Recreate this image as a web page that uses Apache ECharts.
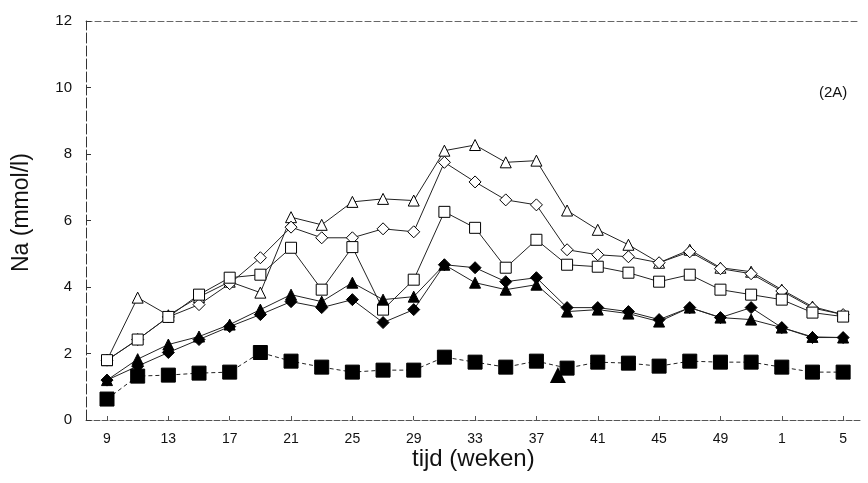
<!DOCTYPE html>
<html><head><meta charset="utf-8">
<script src="https://cdn.jsdelivr.net/npm/echarts@6/dist/echarts.min.js"></script>
<style>html,body{margin:0;padding:0;background:#fff}#c{width:868px;height:483px}</style>
</head><body><div id="c"></div>
<script>
var weeks = ['9','11','13','15','17','19','21','23','25','27','29','31','33','35','37','39','41','43','45','47','49','51','1','3','5'];
var tickIdx = [0,2,4,6,8,10,12,14,16,18,20,22,24];
var openTriangle = [1.8,3.68,3.15,3.7,4.16,3.83,6.1,5.87,6.56,6.65,6.6,8.1,8.27,7.75,7.8,6.3,5.72,5.27,4.73,5.12,4.58,4.46,3.92,3.41,3.17];
var openDiamond  = [1.8,2.42,3.1,3.47,4.1,4.88,5.8,5.48,5.48,5.75,5.66,7.75,7.16,6.62,6.47,5.12,4.97,4.91,4.73,5.06,4.55,4.4,3.88,3.37,3.17];
var openSquare   = [1.8,2.42,3.1,3.77,4.28,4.37,5.18,3.92,5.2,3.32,4.22,6.26,5.78,4.58,5.42,4.67,4.61,4.43,4.16,4.37,3.92,3.77,3.62,3.23,3.11];
var filledDiamond = [1.2,1.62,2.03,2.42,2.81,3.17,3.56,3.38,3.62,2.93,3.32,4.67,4.58,4.16,4.28,3.38,3.38,3.26,3.02,3.38,3.08,3.38,2.78,2.48,2.48];
var filledTriangle = [1.2,1.83,2.27,2.51,2.87,3.32,3.77,3.56,4.13,3.62,3.71,4.67,4.13,3.92,4.07,3.26,3.32,3.2,2.96,3.38,3.08,3.02,2.78,2.5,2.48];
var filledSquare = [0.63,1.32,1.35,1.41,1.44,2.03,1.77,1.59,1.44,1.5,1.5,1.89,1.74,1.59,1.77,1.56,1.74,1.71,1.62,1.77,1.74,1.74,1.59,1.44,1.44];
var strayTriangle = [[14.7,1.35]];
var yTicks = [0,2,4,6,8,10,12];

function pairs(arr){ return arr.map(function(v,i){ return [i,v]; }); }
var FONT = 'Liberation Sans, Arial, sans-serif';
var chart = echarts.init(document.getElementById('c'));
function mk(name, data, symbol, size, filled, dashed){
  return {
    name: name, type: 'line', data: pairs(data), symbol: symbol, symbolSize: size,
    lineStyle: {color: '#222', width: 1, type: dashed ? [4,3] : 'solid'},
    itemStyle: {color: filled ? '#000' : '#fff', borderColor: '#000', borderWidth: 1, opacity: 1},
    emphasis: {disabled: true}, z: filled ? 3 : 2
  };
}
chart.setOption({
  animation: false,
  title: {text: '(2A)', left: 814, top: 80, textStyle: {fontFamily: FONT, fontSize: 15, fontWeight: 'normal', color: '#111'}},
  grid: {left: 86, right: 8, top: 21, bottom: 63},
  graphic: [
    {type: 'text', x: 412, y: 447, style: {text: 'tijd (weken)', font: '24px ' + FONT, fill: '#111'}},
    {type: 'text', x: 10, y: 272, rotation: Math.PI/2, style: {text: 'Na (mmol/l)', font: '23px ' + FONT, fill: '#111'}}
  ],
  xAxis: [{
    type: 'value', min: -0.685, max: 24.55,
    axisLine: {show: true, onZero: false, lineStyle: {color: '#555', width: 1, type: [6,2]}},
    axisTick: {show: true, inside: true, length: 4, customValues: tickIdx, lineStyle: {color: '#555'}},
    axisLabel: {customValues: tickIdx, formatter: function(v){ return weeks[Math.round(v)]; }, fontFamily: FONT, fontSize: 14, color: '#111', margin: 12},
    splitLine: {show: false}
  },{
    type: 'value', position: 'top', min: -0.685, max: 24.55,
    axisLine: {show: true, onZero: false, lineStyle: {color: '#666', width: 1, type: [6,3]}},
    axisTick: {show: false}, axisLabel: {show: false}, splitLine: {show: false}
  }],
  yAxis: {
    type: 'value', min: 0, max: 12, interval: 2,
    axisLine: {show: true, onZero: false, lineStyle: {color: '#333', width: 1, type: [10,3]}},
    axisTick: {show: true, inside: true, length: 5, lineStyle: {color: '#333'}},
    axisLabel: {formatter: function(v){ return yTicks.indexOf(v) >= 0 ? String(v) : ''; }, fontFamily: FONT, fontSize: 15, color: '#111', margin: 14},
    splitLine: {show: false}
  },
  series: [
    mk('open triangle', openTriangle, 'triangle', 11, false, false),
    mk('open diamond', openDiamond, 'diamond', 12, false, false),
    mk('open square', openSquare, 'rect', 11, false, false),
    mk('filled diamond', filledDiamond, 'diamond', 12, true, false),
    mk('filled triangle', filledTriangle, 'triangle', 11, true, false),
    mk('filled square', filledSquare, 'rect', 14, true, true),
    {name: 'stray', type: 'scatter', data: strayTriangle, symbol: 'triangle', symbolSize: [16,16],
     itemStyle: {color: '#000', opacity: 1}, emphasis: {disabled: true}, z: 4}
  ]
});
</script></body></html>
